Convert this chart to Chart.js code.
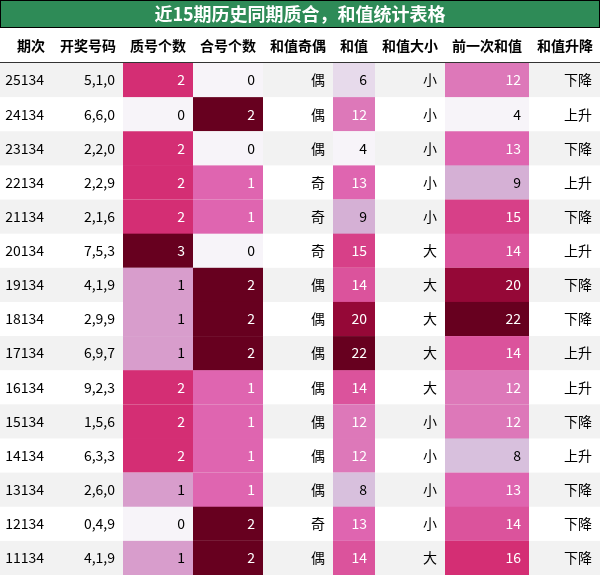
<!DOCTYPE html><html><head><meta charset="utf-8">
<script src="https://cdn.jsdelivr.net/npm/chart.js@4"></script>
<style>html,body{margin:0;padding:0;background:#fff}#w{width:600px;height:575px}</style></head><body>
<div id="w"><canvas id="c"></canvas></div>
<script>
const title = "近15期历史同期质合，和值统计表格";
const headers = ["期次","开奖号码","质号个数","合号个数","和值奇偶","和值","和值大小","前一次和值","和值升降"];
const periods = ["25134","24134","23134","22134","21134","20134","19134","18134","17134","16134","15134","14134","13134","12134","11134"];
const numbers = ["5,1,0","6,6,0","2,2,0","2,2,9","2,1,6","7,5,3","4,1,9","2,9,9","6,9,7","9,2,3","1,5,6","6,3,3","2,6,0","0,4,9","4,1,9"];
const primeCount = [2,0,2,2,2,3,1,1,1,2,2,2,1,0,1];
const compCount = [0,2,0,1,1,0,2,2,2,1,1,1,1,2,2];
const parity = ["偶","偶","偶","奇","奇","奇","偶","偶","偶","偶","偶","偶","偶","奇","偶"];
const sums = [6,12,4,13,9,15,14,20,22,14,12,12,8,13,14];
const size = ["小","小","小","小","小","大","大","大","大","大","小","小","小","小","大"];
const prevSums = [12,4,13,9,15,14,20,22,14,12,12,8,13,14,16];
const trend = ["下降","上升","下降","上升","下降","上升","下降","下降","上升","上升","下降","上升","下降","下降","下降"];

const colEdges=[0,52,123,193,263,333,375,445,529,600];
const stops=[[247,244,249],[212,185,218],[223,101,176],[206,18,86],[103,0,31]];
function purd(t){t=Math.max(0,Math.min(1,t));const s=t*4,i=Math.min(3,Math.floor(s)),f=s-i;const a=stops[i],b=stops[i+1];return `rgb(${a.map((v,k)=>Math.round(v+(b[k]-v)*f)).join(',')})`;}
const cols=[periods,numbers,primeCount,compCount,parity,sums,size,prevSums,trend];
const colored={2:primeCount,3:compCount,5:sums,7:prevSums};
function norm(arr,v){const mn=Math.min(...arr),mx=Math.max(...arr);return (v-mn)/(mx-mn);}
const tablePlugin={id:'tbl',afterDraw(ch){
 const ctx=ch.ctx,xs=ch.scales.x,ys=ch.scales.y;
 const X=v=>xs.getPixelForValue(v),Y=v=>ys.getPixelForValue(v);
 ctx.save();
 ctx.fillStyle='#2e8b57';ctx.fillRect(X(0),Y(0),X(600)-X(0),Y(28)-Y(0));
 ctx.strokeStyle='#000';ctx.lineWidth=1;ctx.strokeRect(X(0)+0.5,Y(0)+0.5,X(600)-X(0)-1,Y(28)-Y(0)-1);
 ctx.fillStyle='#fff';ctx.font='bold 18px "Noto Sans CJK SC"';ctx.textAlign='center';ctx.textBaseline='middle';
 ctx.fillText(title,X(300),Y(14));
 ctx.fillStyle='#000';ctx.font='bold 14px "Noto Sans CJK SC"';ctx.textAlign='right';
 headers.forEach((h,j)=>ctx.fillText(h,X(colEdges[j+1])-7,Y(46)));
 ctx.strokeStyle='#333';ctx.beginPath();ctx.moveTo(X(0),Y(62.5));ctx.lineTo(X(600),Y(62.5));ctx.stroke();
 const rh=(575-63)/15;
 periods.forEach((p,i)=>{
  const y0=63+i*rh,y1=y0+rh;
  if(i%2===0){ctx.fillStyle='#f2f2f2';ctx.fillRect(X(0),Y(y0),X(600)-X(0),Y(y1)-Y(y0));}
  cols.forEach((arr,j)=>{
   let tc='#000';
   if(colored[j]){const t=norm(arr,arr[i]);ctx.fillStyle=purd(t);ctx.fillRect(X(colEdges[j]),Y(y0),X(colEdges[j+1])-X(colEdges[j]),Y(y1)-Y(y0)+0.5);if(t>0.4)tc='#fff';}
   ctx.fillStyle=tc;ctx.font='14px "Noto Sans CJK SC"';ctx.textAlign='right';
   ctx.fillText(String(arr[i]),X(colEdges[j+1])-8,Y((y0+y1)/2));
  });
 });
 ctx.restore();
}};
new Chart(document.getElementById('c'),{type:'scatter',data:{datasets:[{data:[]}]},
options:{responsive:true,maintainAspectRatio:false,animation:false,layout:{padding:0},
plugins:{legend:{display:false},tooltip:{enabled:false}},
scales:{x:{type:'linear',min:0,max:600,display:false},y:{type:'linear',min:0,max:575,reverse:true,display:false}}},
plugins:[tablePlugin]});
</script></body></html>
